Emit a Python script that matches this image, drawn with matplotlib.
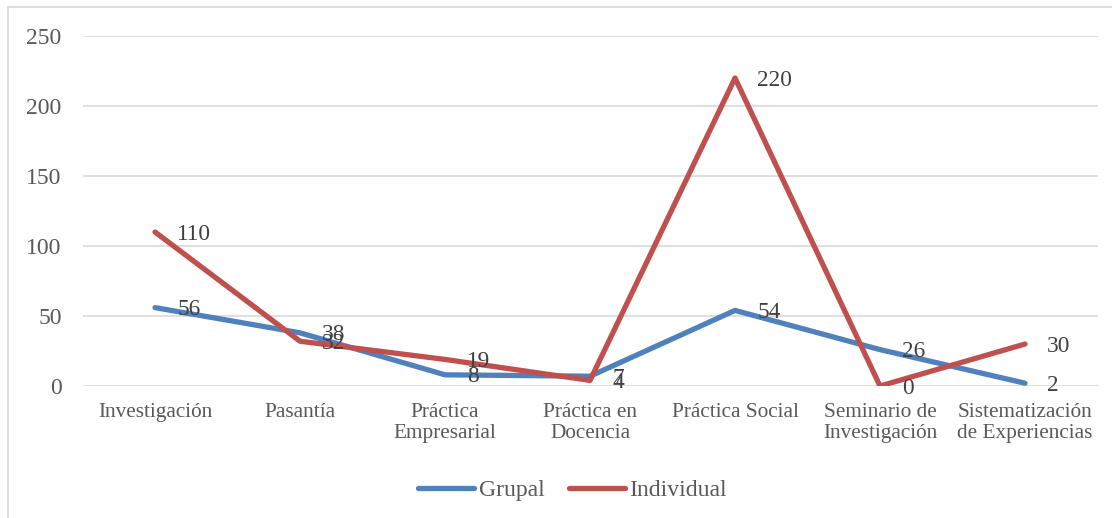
import matplotlib.pyplot as plt
from matplotlib.patches import Rectangle

plt.rcParams['font.family'] = ['Liberation Serif', 'DejaVu Serif']

categorias = ['Investigación', 'Pasantía', 'Práctica\nEmpresarial', 'Práctica en\nDocencia',
              'Práctica Social', 'Seminario de\nInvestigación', 'Sistematización\nde Experiencias']
grupal = [56, 38, 8, 7, 54, 26, 2]
individual = [110, 32, 19, 4, 220, 0, 30]

azul = '#4F81BD'
rojo = '#C0504D'
gris = '#595959'

fig = plt.figure(figsize=(11.12, 5.18), dpi=100)
ax = fig.add_axes([0.0742, 0.2548, 0.9128, 0.6757])

x = list(range(len(categorias)))
ax.plot(x, grupal, color=azul, lw=3.8, solid_capstyle='round', label='Grupal', zorder=3)
ax.plot(x, individual, color=rojo, lw=3.8, solid_capstyle='round', label='Individual', zorder=4)

# etiquetas de datos a la derecha de cada punto
for serie in (grupal, individual):
    for xi, v in zip(x, serie):
        ax.annotate(str(v), (xi, v), xytext=(16, -1.5), textcoords='offset points',
                    ha='left', va='center', fontsize=16.8, color='#404040', zorder=5)

ax.set_xlim(-0.5, len(categorias) - 0.5)
ax.set_ylim(0, 250)
ax.set_yticks(range(0, 251, 50))
ax.set_xticks(x)
ax.set_xticklabels(categorias, linespacing=1.2)
ax.tick_params(axis='both', length=0, colors=gris)
ax.tick_params(axis='x', pad=12, labelsize=15.3)
ax.tick_params(axis='y', pad=15, labelsize=17)
ax.grid(axis='y', color='#D9D9D9', lw=1.2)
ax.set_axisbelow(True)
for s in ax.spines.values():
    s.set_visible(False)

leg = fig.legend(loc='center', bbox_to_anchor=(0.515, 0.054), ncol=2, frameon=False,
                 fontsize=17, handlelength=2.35, handletextpad=0.2, columnspacing=1.05)
for t in leg.get_texts():
    t.set_color(gris)

# marco del gráfico
fig.patches.append(Rectangle((8 / 1112, -0.1), 1.1, 1.1 - 7 / 518, transform=fig.transFigure,
                             fill=False, edgecolor='#D9D9D9', lw=1.2))

fig.savefig('out.png', dpi=100)
